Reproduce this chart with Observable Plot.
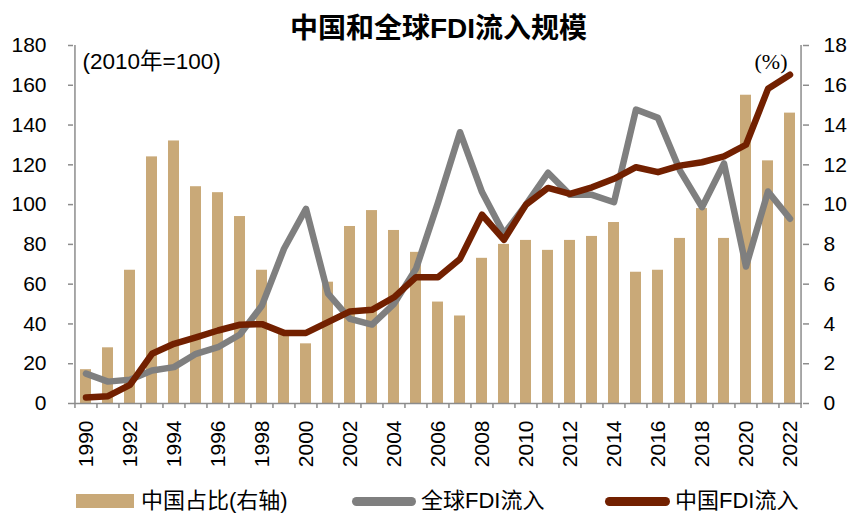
<!DOCTYPE html>
<html>
<head>
<meta charset="utf-8">
<script src="https://cdn.jsdelivr.net/npm/d3@7"></script>
<script src="https://cdn.jsdelivr.net/npm/@observablehq/plot@0.6"></script>
<style>
  html, body { margin: 0; padding: 0; background: #fff; }
  body { width: 865px; height: 523px; overflow: hidden; font-family: "Liberation Sans", Arial, "Noto Sans CJK SC", sans-serif; }
  #title { height: 30px; position: relative; }
  #title span { position: absolute; left: 12px; right: 0; top: 13px; text-align: center; font-size: 28px; font-weight: bold; line-height: 32px; color: #000; font-family: "Liberation Sans", Arial, "Noto Sans CJK SC", sans-serif; }
  #legend { position: relative; height: 43px; font-size: 22px; color: #000; }
  #legend .sw { position: absolute; }
  #legend .tx { position: absolute; top: 7px; line-height: 28px; white-space: nowrap; }
</style>
</head>
<body>
<div id="title"><span>中国和全球FDI流入规模</span></div>
<div id="chart"></div>
<div id="legend"></div>
<script>
const years = [1990,1991,1992,1993,1994,1995,1996,1997,1998,1999,2000,2001,2002,2003,2004,2005,2006,2007,2008,2009,2010,2011,2012,2013,2014,2015,2016,2017,2018,2019,2020,2021,2022];
const chinaShare = [1.7,2.8,6.7,12.4,13.2,10.9,10.6,9.4,6.7,3.6,3.0,6.1,8.9,9.7,8.7,7.6,5.1,4.4,7.3,8.0,8.2,7.7,8.2,8.4,9.1,6.6,6.7,8.3,9.8,8.3,15.5,12.2,14.6];
const globalFDI = [15,11,12,16.6,18.3,25,28.3,34.7,49.3,77.8,97.9,55.2,42.6,39.7,50.1,67.7,101,136.4,106.3,85.3,100,116,104.9,104.9,101.2,147.8,143.6,117.1,98.7,120.7,68.9,106.6,92.9];
const chinaFDI = [3.0,3.7,9.4,25,30,33.3,36.7,39.6,39.9,35.5,35.5,40.9,46.3,47.1,53.4,63.5,63.5,72.7,94.9,82.3,100,108.4,105.4,108.7,113,118.8,116.3,119.6,121.3,124.2,130.1,158.2,165.3];
const leftTicks = [0,20,40,60,80,100,120,140,160,180];
const rightTicks = [0,2,4,6,8,10,12,14,16,18];
const labelYears = [1990,1992,1994,1996,1998,2000,2002,2004,2006,2008,2010,2012,2014,2016,2018,2020,2022];
const seriesNames = ["中国占比(右轴)", "全球FDI流入", "中国FDI流入"];
const colors = ["#C9A978", "#7F7F7F", "#722000"];
const leftUnit = "(2010年=100)";
const rightUnit = "(%)";

const data = years.map((y, i) => ({year: y, share: chinaShare[i], global: globalFDI[i], china: chinaFDI[i]}));

const W = 865, H = 450, ML = 73, MR = 63, MT = 15, MB = 77;
const step = (W - ML - MR) / years.length;
const axisColor = "#8C8C8C";
const font = "Liberation Sans, Arial, Noto Sans CJK SC, sans-serif";

const plot = Plot.plot({
  width: W, height: H,
  marginLeft: ML, marginRight: MR, marginTop: MT, marginBottom: MB,
  style: {background: "transparent", overflow: "visible", fontFamily: font, fontSize: "21px", color: "#000"},
  x: {type: "band", domain: years, paddingInner: 0.5, paddingOuter: 0.25, axis: null, label: null},
  y: {domain: [0, 180], axis: null, label: null},
  marks: [
    Plot.barY(data, {x: "year", y: d => d.share * 10, fill: colors[0]}),
    Plot.line(data, {x: "year", y: "global", stroke: colors[1], strokeWidth: 6.5, strokeLinejoin: "round", strokeLinecap: "round"}),
    Plot.line(data, {x: "year", y: "china", stroke: colors[2], strokeWidth: 6.5, strokeLinejoin: "round", strokeLinecap: "round"}),
    // axis lines
    Plot.ruleY([0], {stroke: axisColor, strokeWidth: 1.5}),
    Plot.ruleX([years[0]], {dx: -step / 2, stroke: axisColor, strokeWidth: 1.5}),
    Plot.ruleX([years[years.length - 1]], {dx: step / 2, stroke: axisColor, strokeWidth: 1.5}),
    // left axis
    Plot.axisY(leftTicks, {anchor: "left", label: null, tickSize: 5, tickPadding: 22, stroke: axisColor, strokeWidth: 1.5, fontSize: 21, fill: "#000"}),
    // right axis (share, scaled x10)
    Plot.axisY(rightTicks.map(t => t * 10), {anchor: "right", label: null, tickSize: 6, tickPadding: 15, tickFormat: d => d / 10, stroke: axisColor, strokeWidth: 1.5, fontSize: 21, fill: "#000"}),
    // bottom ticks at band boundaries
    Plot.axisX(years, {anchor: "bottom", label: null, tickSize: 5, text: null, dx: -step / 2, stroke: axisColor, strokeWidth: 1.5}),
    Plot.axisX([years[years.length - 1]], {anchor: "bottom", label: null, tickSize: 5, text: null, dx: step / 2, stroke: axisColor, strokeWidth: 1.5}),
    // bottom labels
    Plot.axisX(labelYears, {anchor: "bottom", label: null, tickSize: 0, tickPadding: 17, tickRotate: -90, fontSize: 21, fill: "#000", tickFormat: d => String(d)}),
    // unit labels
    Plot.text([leftUnit], {frameAnchor: "top-left", dx: 9, dy: 8, textAnchor: "start", fontSize: 22.5, fill: "#000"}),
    Plot.text([rightUnit], {frameAnchor: "top-right", dx: -15, dy: 8, textAnchor: "end", fontSize: 22, fill: "#000", fontFamily: "Liberation Serif, Times New Roman, serif"})
  ]
});
document.getElementById("chart").appendChild(plot);

// legend
const legend = document.getElementById("legend");
const items = [
  {sw: {left: 76, width: 58, top: 14, height: 14, bg: colors[0], radius: 0}, tx: 141},
  {sw: {left: 352, width: 64, top: 16.5, height: 9, bg: colors[1], radius: 4.5}, tx: 421},
  {sw: {left: 605, width: 65, top: 16.5, height: 9, bg: colors[2], radius: 4.5}, tx: 675}
];
items.forEach((it, i) => {
  const s = document.createElement("div");
  s.className = "sw";
  Object.assign(s.style, {left: it.sw.left + "px", width: it.sw.width + "px", top: it.sw.top + "px", height: it.sw.height + "px", background: it.sw.bg, borderRadius: it.sw.radius + "px"});
  legend.appendChild(s);
  const t = document.createElement("div");
  t.className = "tx";
  t.style.left = it.tx + "px";
  t.textContent = seriesNames[i];
  legend.appendChild(t);
});
</script>
</body>
</html>
